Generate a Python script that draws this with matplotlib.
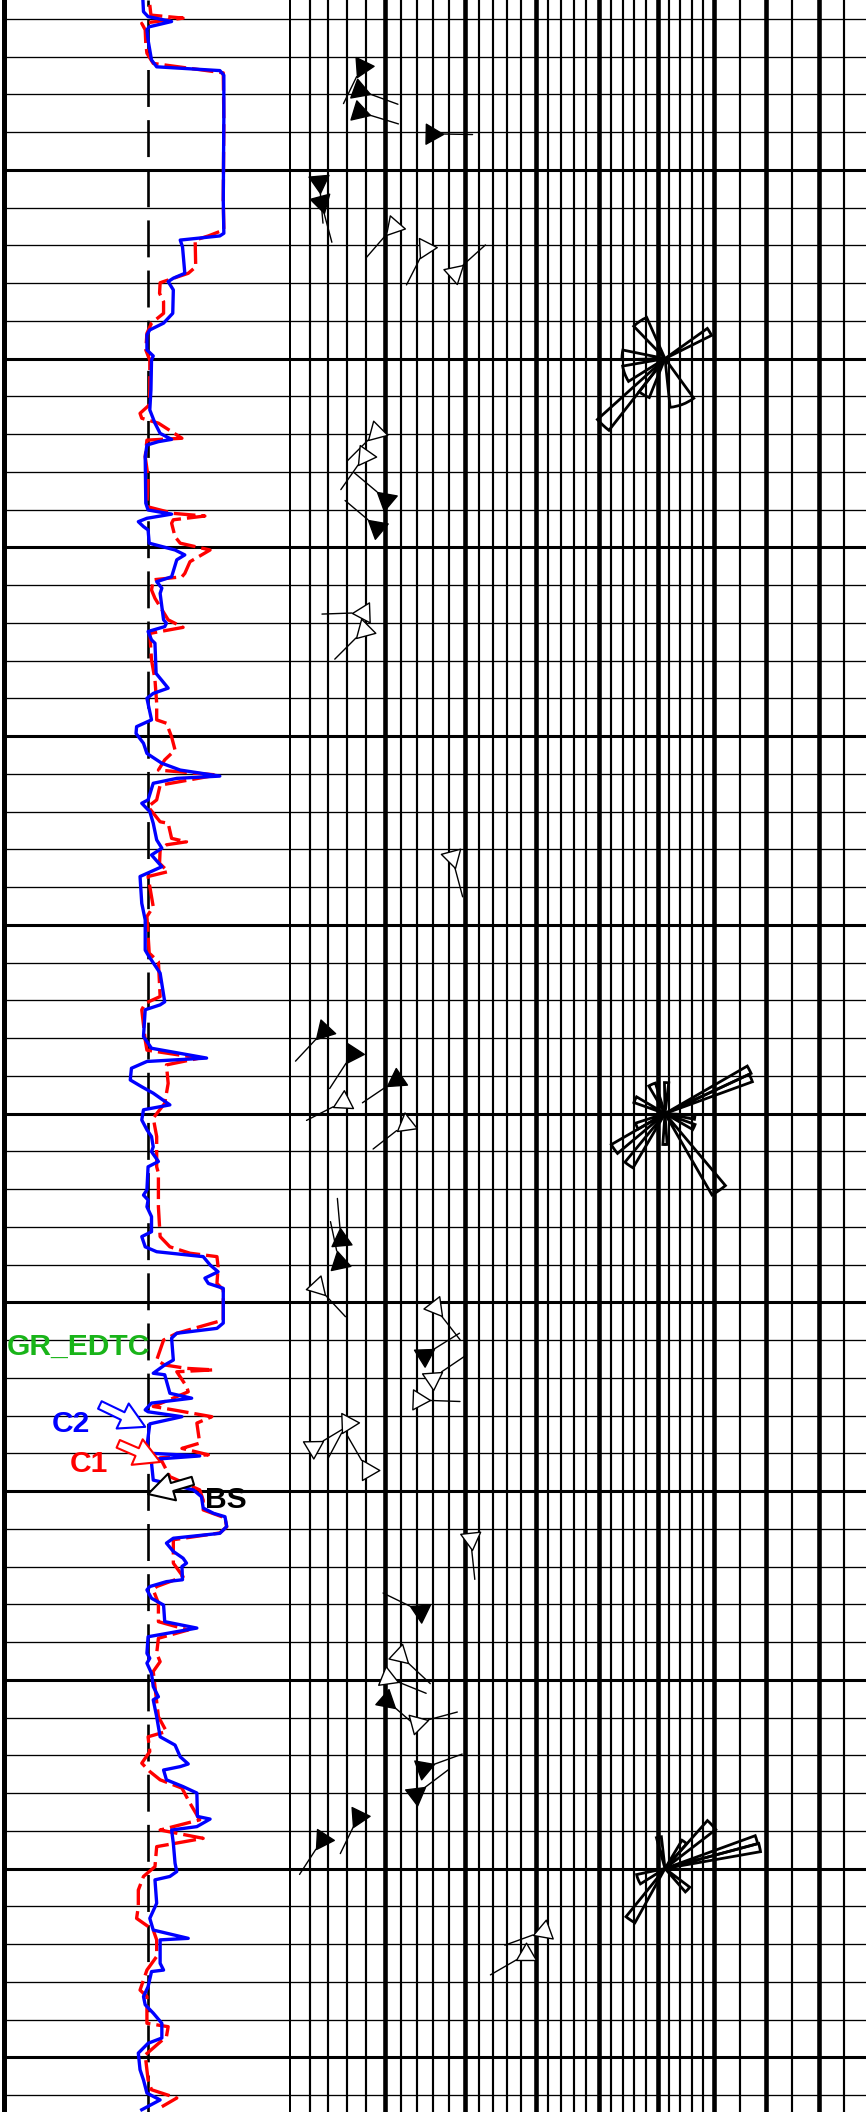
import numpy as np
import matplotlib.pyplot as plt
from matplotlib.path import Path

plt.rcParams["font.family"] = ["Liberation Sans", "DejaVu Sans"]

# depth window (m)
TOP, BOTTOM = 995.5, 1051.45

# caliper C2 (in) vs depth
c2_depth = [995.50, 995.81, 995.94, 996.07, 996.21, 996.29, 996.56, 997.09, 997.27, 997.37,
            997.49, 998.59, 1000.80, 1001.68, 1001.75, 1001.86, 1002.04, 1002.74, 1002.87, 1002.96,
            1003.18, 1003.80, 1004.06, 1004.24, 1004.37, 1004.77, 1004.93, 1005.04, 1005.83, 1006.36,
            1006.71, 1006.98, 1007.14, 1007.20, 1007.29, 1007.60, 1008.83, 1009.01, 1009.12, 1009.23,
            1009.32, 1009.45, 1009.54, 1009.89, 1010.07, 1010.20, 1010.33, 1010.78, 1010.91, 1011.08,
            1011.22, 1011.92, 1012.01, 1012.10, 1012.23, 1012.45, 1012.54, 1013.34, 1013.73, 1013.87,
            1014.00, 1014.57, 1014.75, 1014.93, 1015.19, 1015.46, 1015.72, 1015.90, 1016.06, 1016.12,
            1016.25, 1016.69, 1016.78, 1017.00, 1017.31, 1017.75, 1017.97, 1018.15, 1018.46, 1018.72,
            1019.43, 1019.87, 1020.67, 1020.80, 1021.28, 1022.04, 1022.12, 1022.25, 1022.96, 1023.27,
            1023.53, 1023.62, 1023.80, 1024.11, 1024.29, 1024.46, 1024.77, 1024.90, 1025.17, 1025.43,
            1025.61, 1025.88, 1026.01, 1026.27, 1026.41, 1027.02, 1027.16, 1027.29, 1027.47, 1027.73,
            1028.13, 1028.26, 1028.53, 1028.66, 1028.79, 1029.01, 1029.19, 1029.36, 1029.50, 1029.63,
            1030.55, 1030.69, 1030.82, 1030.95, 1031.53, 1031.66, 1031.88, 1031.92, 1032.41, 1032.54,
            1032.67, 1032.85, 1032.90, 1033.03, 1033.22, 1033.82, 1034.00, 1034.07, 1034.16, 1034.26,
            1034.71, 1034.79, 1034.97, 1035.15, 1035.45, 1035.59, 1035.68, 1035.94, 1036.12, 1036.25,
            1036.38, 1036.60, 1036.78, 1036.91, 1037.00, 1037.35, 1037.40, 1037.53, 1037.62, 1037.84,
            1038.02, 1038.46, 1038.63, 1038.86, 1039.30, 1039.43, 1039.56, 1039.83, 1040.18, 1040.45,
            1040.53, 1040.98, 1041.51, 1041.73, 1042.04, 1042.23, 1042.30, 1042.39, 1042.65, 1042.83,
            1043.00, 1043.62, 1043.69, 1043.89, 1043.98, 1044.33, 1044.86, 1045.08, 1045.21, 1045.30,
            1045.92, 1046.32, 1046.63, 1046.85, 1046.89, 1047.51, 1047.69, 1047.73, 1048.13, 1048.39,
            1048.61, 1048.83, 1049.10, 1049.49, 1049.63, 1049.89, 1050.33, 1050.60, 1050.95, 1051.13,
            1051.39]
c2_cal = [8.42, 8.43, 8.51, 8.92, 8.53, 8.49, 8.51, 8.57, 8.66, 9.76,
          9.83, 9.83, 9.82, 9.83, 9.76, 9.07, 9.11, 9.15, 8.95, 8.86,
          8.95, 8.94, 8.78, 8.54, 8.49, 8.49, 8.60, 8.57, 8.56, 8.54,
          8.63, 8.72, 8.92, 8.69, 8.49, 8.46, 8.47, 8.51, 8.92, 8.49,
          8.34, 8.43, 8.51, 8.53, 8.98, 9.15, 9.01, 8.92, 8.66, 8.75,
          8.72, 8.78, 8.83, 8.80, 8.51, 8.57, 8.63, 8.65, 8.86, 8.60,
          8.49, 8.57, 8.31, 8.30, 8.43, 8.49, 8.75, 9.07, 9.76, 9.01,
          8.60, 8.51, 8.40, 8.54, 8.60, 8.66, 8.75, 8.57, 8.75, 8.37,
          8.40, 8.46, 8.46, 8.51, 8.72, 8.80, 8.72, 8.46, 8.43, 8.57,
          9.53, 8.49, 8.22, 8.20, 8.40, 8.60, 8.89, 8.43, 8.40, 8.49,
          8.57, 8.60, 8.57, 8.69, 8.51, 8.49, 8.43, 8.51, 8.49, 8.57,
          8.57, 8.40, 8.46, 8.66, 9.47, 9.59, 9.73, 9.50, 9.56, 9.82,
          9.82, 9.71, 9.01, 8.92, 8.95, 8.80, 8.60, 8.80, 8.89, 9.27,
          8.57, 8.46, 8.51, 9.10, 8.54, 8.49, 8.57, 9.41, 8.60, 8.57,
          8.60, 8.83, 9.30, 9.44, 9.47, 9.65, 9.85, 9.88, 9.76, 8.95,
          8.83, 8.95, 9.12, 9.18, 9.10, 9.11, 8.83, 8.54, 8.49, 8.57,
          8.78, 8.80, 9.36, 8.51, 8.49, 8.54, 8.49, 8.57, 8.60, 8.69,
          8.60, 8.66, 8.72, 8.98, 9.07, 9.21, 9.07, 8.78, 8.83, 9.12,
          9.36, 9.37, 9.59, 9.36, 8.92, 8.95, 8.98, 9.01, 8.89, 8.63,
          8.66, 8.54, 8.60, 9.21, 8.72, 8.72, 8.78, 8.57, 8.51, 8.43,
          8.46, 8.60, 8.75, 8.75, 8.51, 8.34, 8.37, 8.43, 8.49, 8.72,
          8.40]

# caliper C1 (in) vs depth
c1_depth = [995.63, 995.90, 995.98, 996.12, 996.29, 996.65, 996.91, 997.18, 997.43, 998.68,
            1000.80, 1001.59, 1001.75, 1001.86, 1002.57, 1002.74, 1002.99, 1003.27, 1003.49, 1003.80,
            1004.06, 1004.33, 1004.77, 1005.04, 1005.83, 1006.23, 1006.45, 1006.58, 1006.71, 1007.11,
            1007.16, 1007.60, 1008.13, 1008.92, 1009.10, 1009.17, 1009.27, 1009.36, 1009.72, 1009.89,
            1010.07, 1010.38, 1010.69, 1010.78, 1010.86, 1011.13, 1011.35, 1011.92, 1012.12, 1012.28,
            1012.98, 1013.51, 1014.13, 1014.57, 1014.66, 1015.02, 1015.37, 1015.63, 1015.90, 1016.03,
            1016.30, 1016.69, 1016.87, 1017.27, 1017.31, 1017.71, 1017.80, 1017.88, 1018.02, 1018.37,
            1018.59, 1018.72, 1019.52, 1019.78, 1020.75, 1020.98, 1021.90, 1022.08, 1022.25, 1023.05,
            1023.32, 1023.53, 1023.71, 1024.20, 1024.73, 1025.12, 1025.61, 1026.41, 1026.58, 1027.47,
            1028.26, 1028.53, 1028.70, 1028.79, 1029.06, 1029.50, 1029.67, 1030.47, 1030.82, 1031.00,
            1031.53, 1031.66, 1031.75, 1031.79, 1031.84, 1032.23, 1032.37, 1032.76, 1032.85, 1033.03,
            1033.20, 1033.73, 1033.87, 1034.04, 1034.12, 1034.62, 1034.97, 1035.24, 1035.50, 1035.71,
            1035.95, 1036.11, 1036.29, 1036.91, 1037.27, 1037.53, 1037.62, 1037.97, 1038.46, 1038.68,
            1038.90, 1039.30, 1039.52, 1039.78, 1040.18, 1040.98, 1041.37, 1041.51, 1041.90, 1042.21,
            1042.43, 1042.65, 1042.87, 1043.27, 1043.71, 1043.98, 1044.20, 1044.42, 1044.95, 1045.21,
            1045.57, 1046.01, 1046.32, 1046.63, 1046.89, 1047.33, 1047.69, 1048.22, 1048.39, 1049.10,
            1049.19, 1049.45, 1049.94, 1050.60, 1050.86, 1051.08, 1051.31]
c1_cal = [8.54, 8.56, 9.12, 8.40, 8.46, 8.47, 8.49, 8.60, 9.82, 9.83,
          9.82, 9.83, 9.56, 9.33, 9.34, 9.21, 8.72, 8.71, 8.78, 8.78,
          8.57, 8.49, 8.47, 8.54, 8.54, 8.53, 8.37, 8.40, 8.69, 9.10,
          8.49, 8.46, 8.51, 8.49, 8.95, 9.50, 8.95, 8.92, 8.98, 9.07,
          9.59, 9.24, 9.15, 9.10, 8.60, 8.57, 8.63, 8.86, 9.12, 8.54,
          8.57, 8.63, 8.66, 8.66, 8.83, 8.92, 8.98, 8.80, 8.69, 9.71,
          8.72, 8.66, 8.51, 8.72, 8.86, 8.92, 9.18, 8.83, 8.72, 8.71,
          8.86, 8.51, 8.60, 8.49, 8.53, 8.69, 8.72, 8.46, 8.40, 8.46,
          8.49, 9.41, 8.83, 8.86, 8.80, 8.60, 8.66, 8.66, 8.69, 8.69,
          8.72, 8.89, 9.24, 9.71, 9.73, 9.71, 9.82, 9.82, 9.01, 8.78,
          8.66, 8.80, 9.18, 9.65, 9.01, 9.18, 9.21, 8.60, 8.95, 9.62,
          9.36, 9.41, 9.10, 9.56, 8.72, 8.89, 9.41, 9.47, 9.47, 9.85,
          9.88, 9.76, 8.95, 8.95, 9.12, 8.66, 8.60, 8.69, 8.69, 9.21,
          8.69, 8.66, 8.72, 8.60, 8.63, 8.69, 8.83, 8.51, 8.54, 8.40,
          8.54, 8.72, 9.10, 9.24, 9.41, 8.72, 9.47, 8.66, 8.63, 8.43,
          8.34, 8.34, 8.31, 8.60, 8.66, 8.66, 8.49, 8.37, 8.49, 8.49,
          8.86, 8.83, 8.46, 8.51, 8.57, 9.01, 8.75]

bit_size = 8.5

# dip tadpoles: depth (m), true dip (deg), dip azimuth (deg), filled head
tad_depth = [997.53, 997.99, 998.55, 999.05, 1000.62, 1001.15, 1001.73, 1002.34, 1002.52,
             1007.16, 1007.82, 1008.53, 1009.27, 1011.74, 1012.40, 1018.49,
             1023.03, 1023.67, 1024.27, 1024.82, 1025.45, 1028.04, 1028.64, 1029.80,
             1030.37, 1031.24, 1031.84, 1032.60, 1033.46, 1033.67, 1034.19, 1036.55,
             1038.05, 1039.56, 1040.06, 1040.74, 1041.06, 1042.24, 1042.85, 1043.89,
             1044.49, 1046.76, 1047.42]
tad_dip = [7.02, 8.42, 8.42, 17.26, 3.14, 3.54, 10.16, 14.45, 19.83,
           8.24, 7.17, 9.20, 8.24, 6.52, 6.95, 18.80,
           2.67, 5.88, 10.35, 4.52, 11.53, 5.24, 4.89, 3.64,
           17.15, 16.19, 17.15, 15.69, 5.42, 3.45, 7.56, 21.01,
           13.19, 12.98, 11.73, 11.31, 15.48, 16.19, 15.06, 6.68,
           2.66, 29.65, 27.31]
tad_azi = [206, 110, 107, 91, 175, 165, 221, 207, 48,
           225, 215, 310, 310, 268, 225, 165,
           223, 213, 236, 243, 232, 355, 348, 137,
           142, 58, 56, 92, 208, 59, 330, 174,
           296, 133, 112, 131, 75, 70, 53, 206,
           213, 250, 240]
tad_filled = [1, 1, 1, 1, 1, 1, 0, 0, 0,
              0, 0, 1, 1, 0, 0, 0,
              1, 1, 1, 0, 0, 1, 1, 0,
              0, 1, 0, 0, 0, 0, 0, 0,
              1, 0, 0, 1, 0, 1, 1, 1,
              1, 0, 0]

# azimuth rose diagrams (one per 20 m interval)
rose_depth = [1005.0, 1025.0, 1045.0]
rose_dip = 51.25
rose_azi = [[326, 59, 275, 249, 223, 210, 159],
            [62.5, 67.5, 3, 180, 336, 295, 246, 235, 215, 145, 97, 115],
            [47, 36, 72.5, 77.5, 349, 248, 214, 133]]
rose_len = [[45, 52, 43, 43, 91, 42, 49],
            [95, 93, 31, 31, 32, 33, 31, 62, 63, 94, 30, 32],
            [64, 33, 96, 97, 32, 29, 62, 31]]
rose_wid = [[20, 9, 13, 22, 10, 16, 30],
            [5, 5, 8, 8, 13, 11, 12, 10, 9, 10, 8, 10],
            [11, 10, 5, 5, 9, 20, 10, 12]]

# non-linear dip grid scale
dip_knots = [0, 10, 20, 30, 40, 50, 60, 70, 80, 90]
dip_pos = [0, 93.5, 173.5, 244.5, 308, 367, 423, 475, 527.5, 579]


def dip_fwd(d):
    return np.interp(d, dip_knots, dip_pos)


def dip_inv(p):
    return np.interp(p, dip_pos, dip_knots)


W, H = 866, 2112
fig = plt.figure(figsize=(W / 100, H / 100), dpi=100)

ax_cal = fig.add_axes([4 / W, 0, 287 / W, 1])
ax_dip = fig.add_axes([291 / W, 0, 579 / W, 1])

for ax in (ax_cal, ax_dip):
    ax.set_ylim(BOTTOM, TOP)
    ax.set_xticks([])
    ax.set_yticks([])
    for s in ("top", "bottom"):
        ax.spines[s].set_visible(False)
    for dep in np.arange(996, 1052):
        major = dep % 5 == 0
        ax.axhline(dep, color="black", lw=2.2 if major else 0.95, zorder=1)

ax_cal.set_xlim(6, 11)
for s in ("left", "right"):
    ax_cal.spines[s].set_linewidth(3.6)
    ax_cal.spines[s].set_zorder(6)

ax_dip.set_xscale("function", functions=(dip_fwd, dip_inv))
ax_dip.set_xlim(0, 90)
ax_dip.spines["left"].set_visible(False)
ax_dip.spines["right"].set_visible(False)
ax_dip.set_xticks([])
ax_dip.set_xticks([], minor=True)
thin = [d for d in range(2, 60, 2) if d % 10] + [65, 75, 85]
for d in thin:
    ax_dip.axvline(d, color="black", lw=1.55, zorder=1)
for d in range(10, 90, 10):
    ax_dip.axvline(d, color="black", lw=3.3, zorder=1)

# caliper curves
ax_cal.axvline(bit_size, color="black", lw=1.9, dashes=(14, 5), zorder=2)
ax_cal.plot(c1_cal, c1_depth, color="red", lw=2.4, dashes=(6.5, 1.8), zorder=3)
ax_cal.plot(c2_cal, c2_depth, color="blue", lw=2.4, zorder=4)

# curve labels with callout arrows
lab_kw = dict(fontsize=21.6, fontweight="bold", va="baseline", ha="left", zorder=7)
ax_cal.text(6.04, 1031.39, "GR_EDTC", color="#19b419", **lab_kw)
ax_cal.text(6.83, 1033.43, "C2", color="blue", **lab_kw)
ax_cal.text(7.15, 1034.49, "C1", color="red", **lab_kw)
ax_cal.text(9.50, 1035.46, "BS", color="black", **lab_kw)

arrow_style = "simple,head_length=0.9,head_width=1.0,tail_width=0.3"
for tail, tip, col in [((7.67, 1032.72), (8.46, 1033.30), "blue"),
                       ((7.99, 1033.75), (8.72, 1034.23), "red"),
                       ((9.29, 1034.73), (8.51, 1035.08), "black")]:
    ax_cal.annotate("", xy=tip, xytext=tail, zorder=6,
                    arrowprops=dict(arrowstyle=arrow_style, mutation_scale=20,
                                    fc="white", ec=col, lw=1.5,
                                    shrinkA=0, shrinkB=0))

# tadpoles
TAIL = 21.6   # pt
SIDE = 14.4   # pt


def head_marker(azi):
    a1 = np.radians(azi + 150)
    a2 = np.radians(azi + 210)
    verts = np.array([[0, 0], [np.sin(a1), np.cos(a1)],
                      [np.sin(a2), np.cos(a2)], [0, 0]])
    m = np.abs(verts).max()
    path = Path(verts, [Path.MOVETO, Path.LINETO, Path.LINETO, Path.CLOSEPOLY])
    return path, 2 * SIDE * m


for dep, dip, azi, solid in zip(tad_depth, tad_dip, tad_azi, tad_filled):
    t = np.radians(azi)
    ax_dip.annotate("", xy=(dip, dep), xytext=(TAIL * np.sin(t), TAIL * np.cos(t)),
                    textcoords="offset points", zorder=4,
                    arrowprops=dict(arrowstyle="-", color="black", lw=1.0,
                                    shrinkA=0, shrinkB=0))
    path, ms = head_marker(azi)
    ax_dip.plot(dip, dep, marker=path, markersize=ms, linestyle="none",
                mfc="black" if solid else "white", mec="black", mew=1.0, zorder=5)

# rose diagrams
R = 100
for dep, az, ln, wd in zip(rose_depth, rose_azi, rose_len, rose_wid):
    cx, cy = ax_dip.transData.transform((rose_dip, dep))
    rax = fig.add_axes([(cx - R) / W, (cy - R) / H, 2 * R / W, 2 * R / H],
                       projection="polar")
    rax.set_theta_zero_location("N")
    rax.set_theta_direction(-1)
    rax.bar(np.radians(az), ln, width=np.radians(wd), bottom=0,
            fill=False, edgecolor="black", linewidth=2.0)
    rax.set_ylim(0, R)
    rax.axis("off")
    rax.patch.set_alpha(0)

fig.savefig("out.png", dpi=100)
